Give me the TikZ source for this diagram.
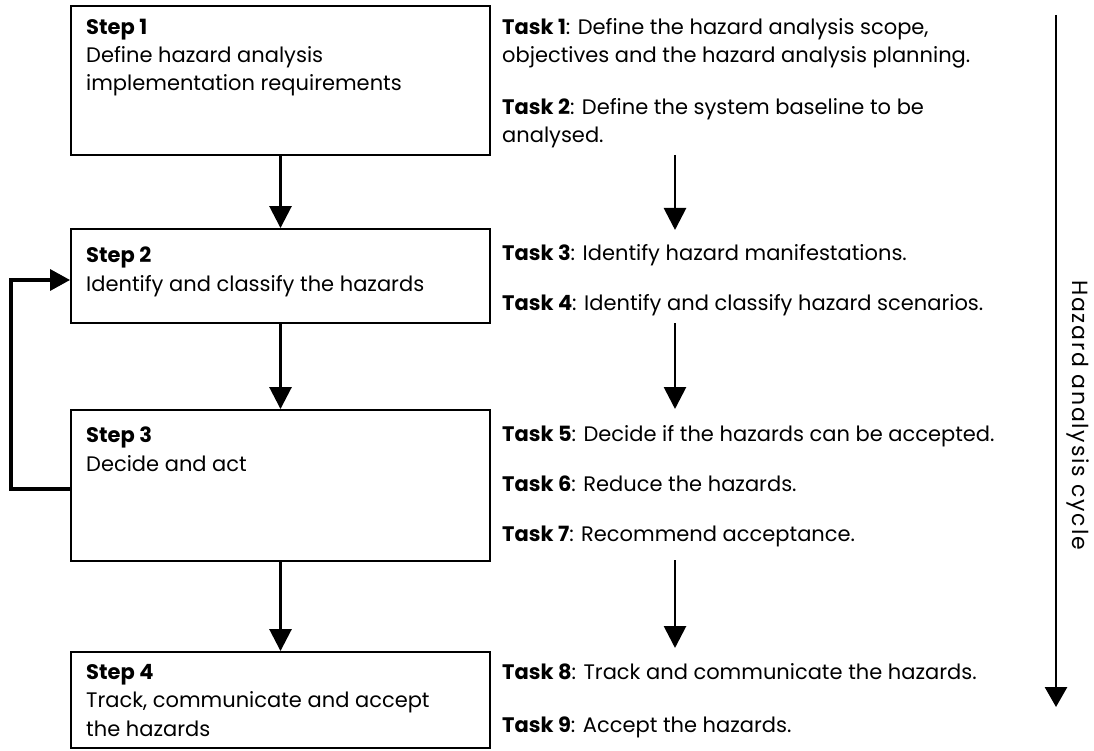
\documentclass[tikz,border=0pt]{standalone}
\usepackage{fontspec}
\setmainfont{Poppins}
\usetikzlibrary{arrows.meta}
\begin{document}
\begin{tikzpicture}[x=1pt,y=-1pt,
  box/.style={draw, line width=1.9pt, inner sep=0pt},
  txt/.style={anchor=base west, inner sep=0pt, font=\fontsize{21}{28}\selectfont},
  arr/.style={line width=2.8pt, -{Triangle[length=22pt,width=22pt]}},
  fb/.style={line width=3.4pt, -{Triangle[length=20pt,width=21pt]}},
  cyc/.style={line width=2.8pt, -{Triangle[length=20pt,width=22pt]}},
]
\useasboundingbox (0,0) rectangle (1094,751);
% step boxes
\node[box, minimum width=419pt, minimum height=149pt] (s1) at (280.5,80.5) {};
\node[box, minimum width=419pt, minimum height=94pt] (s2) at (280.5,276) {};
\node[box, minimum width=419pt, minimum height=151pt] (s3) at (280.5,485.5) {};
\node[box, minimum width=419pt, minimum height=96pt] (s4) at (280.5,700) {};
% step texts
\node[txt] (s1h) at (86,35) {\textbf{Step 1}};
\node[txt] (s1a) at (86,63) {Define hazard analysis};
\node[txt] (s1b) at (86,91) {implementation requirements};
\node[txt] (s2h) at (86,262) {\textbf{Step 2}};
\node[txt] (s2a) at (86,291) {Identify and classify the hazards};
\node[txt] (s3h) at (86,442) {\textbf{Step 3}};
\node[txt] (s3a) at (86,471) {Decide and act};
\node[txt] (s4h) at (86,679) {\textbf{Step 4}};
\node[txt] (s4a) at (86,707) {Track, communicate and accept};
\node[txt] (s4b) at (86,736) {the hazards};
% step arrows
\draw[arr] (s1.south) -- (s2.north);
\draw[arr] (s2.south) -- (s3.north);
\draw[arr] (s3.south) -- (s4.north);
\draw[fb] ([yshift=-3.5pt]s3.west) -- (11,489) |- ([yshift=-4pt]s2.west);
% tasks
\node[txt] (t1a) at (502,35) {\textbf{Task 1}: Define the hazard analysis scope,};
\node[txt] (t1b) at (502,63) {objectives and the hazard analysis planning.};
\node[txt] (t2a) at (502,115) {\textbf{Task 2}: Define the system baseline to be};
\node[txt] (t2b) at (502,143) {analysed.};
\node[txt] (t3) at (502,261) {\textbf{Task 3}: Identify hazard manifestations.};
\node[txt] (t4) at (502,310) {\textbf{Task 4}: Identify and classify hazard scenarios.};
\node[txt] (t5) at (502,441) {\textbf{Task 5}: Decide if the hazards can be accepted.};
\node[txt] (t6) at (502,491) {\textbf{Task 6}: Reduce the hazards.};
\node[txt] (t7) at (502,541) {\textbf{Task 7}: Recommend acceptance.};
\node[txt] (t8) at (502,679) {\textbf{Task 8}: Track and communicate the hazards.};
\node[txt] (t9) at (502,732) {\textbf{Task 9}: Accept the hazards.};
% task arrows
\coordinate (a1s) at (675,155); \coordinate (a1e) at (675,230);
\coordinate (a2s) at (675,323); \coordinate (a2e) at (675,409);
\coordinate (a3s) at (675,560); \coordinate (a3e) at (675,648);
\draw[arr] (a1s) -- (a1e);
\draw[arr] (a2s) -- (a2e);
\draw[arr] (a3s) -- (a3e);
% cycle arrow
\coordinate (ctop) at (1056,15); \coordinate (cbot) at (1056,707);
\draw[cyc] (ctop) -- (cbot);
\node[rotate=-90, inner sep=0pt, font=\fontsize{22}{26}\selectfont\addfontfeature{LetterSpace=8}] (cyclbl) at (1078,415) {Hazard analysis cycle};
\end{tikzpicture}
\end{document}
